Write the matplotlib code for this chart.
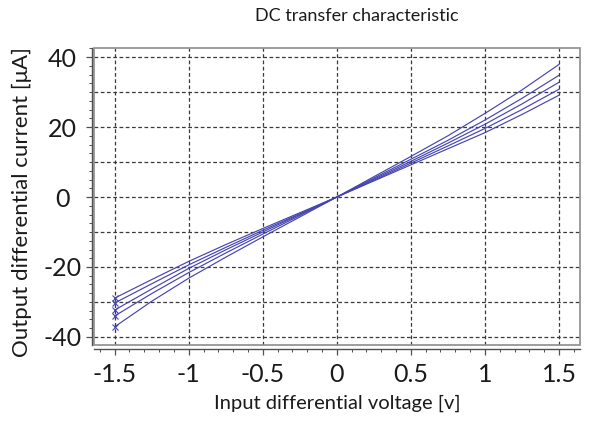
import matplotlib
matplotlib.use('Agg')
import matplotlib.pyplot as plt
from matplotlib.patches import Rectangle
from matplotlib.ticker import MultipleLocator

plt.rcParams['font.family'] = ['Lato', 'DejaVu Sans']
plt.rcParams['axes.unicode_minus'] = False

# input differential voltage [V]
vin = [-1.5, -1.25, -1.0, -0.75, -0.5, -0.25, 0.0, 0.25, 0.5, 0.75, 1.0, 1.25, 1.5]

# output differential current [uA], one list per sweep
iout_a = [-37.1, -29.8, -23.2, -17.2, -11.4, -5.7, 0.0, 5.8, 11.6, 17.5, 23.9, 30.6, 37.9]
iout_b = [-34.0, -27.6, -21.6, -16.0, -10.6, -5.3, 0.0, 5.4, 10.8, 16.2, 22.0, 28.2, 34.8]
iout_c = [-32.3, -26.3, -20.4, -15.1, -10.0, -5.0, 0.0, 5.1, 10.2, 15.4, 20.8, 26.6, 32.8]
iout_d = [-30.3, -24.8, -19.4, -14.4, -9.5, -4.8, 0.0, 4.8, 9.7, 14.6, 19.6, 25.0, 30.8]
iout_e = [-28.9, -23.6, -18.4, -13.6, -9.0, -4.5, 0.0, 4.6, 9.2, 13.8, 18.4, 23.6, 29.1]

xticks = [-1.5, -1, -0.5, 0, 0.5, 1, 1.5]
xlabels = ['-1.5', '-1', '-0.5', '0', '0.5', '1', '1.5']
yticks = [-40, -20, 0, 20, 40]

line_col = '#4545b0'
frame_col = '#8c8c8c'

fig = plt.figure(figsize=(6.02, 4.21), dpi=100)
ax = fig.add_axes([0.156, 0.1805, 0.807, 0.7055])

for iout in [iout_a, iout_b, iout_c, iout_d, iout_e]:
    ax.plot(vin, iout, color=line_col, lw=0.85)
    ax.plot(vin[0], iout[0], marker='x', ms=5, mew=0.8, color=line_col)

ax.set_xlim(-1.64, 1.64)
ax.set_ylim(-42.3, 42.6)

# dashed grid: every 0.5 V and every 10 uA
for xv in xticks:
    ax.axvline(xv, color='#3a3a3a', lw=0.9, ls=(0, (3, 2)), zorder=0)
for yv in range(-40, 41, 10):
    ax.axhline(yv, color='#3a3a3a', lw=0.9, ls=(0, (3, 2)), zorder=0)

# frame around the plot area
ax.add_patch(Rectangle((0, 0), 1, 1, transform=ax.transAxes, fill=False,
                       edgecolor=frame_col, lw=1.2, clip_on=False))

# axes lines with ticks, pushed outside the frame
ax.spines['top'].set_visible(False)
ax.spines['right'].set_visible(False)
ax.spines['left'].set_position(('outward', 1.5))
ax.spines['bottom'].set_position(('outward', 3))
for s in ['left', 'bottom']:
    ax.spines[s].set_color('#505050')
    ax.spines[s].set_linewidth(1.0)

ax.set_xticks(xticks)
ax.set_xticklabels(xlabels)
ax.set_yticks(yticks)
ax.xaxis.set_minor_locator(MultipleLocator(0.1))
ax.yaxis.set_minor_locator(MultipleLocator(2.5))
ax.tick_params(which='major', direction='out', length=4, width=0.9,
               color='#505050', labelsize=18, labelcolor='#1a1a1a')
ax.tick_params(which='minor', direction='out', length=2, width=0.7,
               color='#505050')
ax.tick_params(axis='x', pad=6)
ax.tick_params(axis='y', pad=17)
for lbl in ax.get_yticklabels():
    lbl.set_horizontalalignment('center')

ax.set_xlabel('Input differential voltage [v]', fontsize=14.5,
              color='#1a1a1a', labelpad=6)
ax.set_ylabel('Output differential current [μA]', fontsize=16,
              color='#1a1a1a', labelpad=1)
ax.yaxis.set_label_coords(-0.128, 0.48)
fig.text(0.592, 0.962, 'DC transfer characteristic', fontsize=13,
         color='#1a1a1a', ha='center', va='center')

fig.savefig('out.png', dpi=100)
